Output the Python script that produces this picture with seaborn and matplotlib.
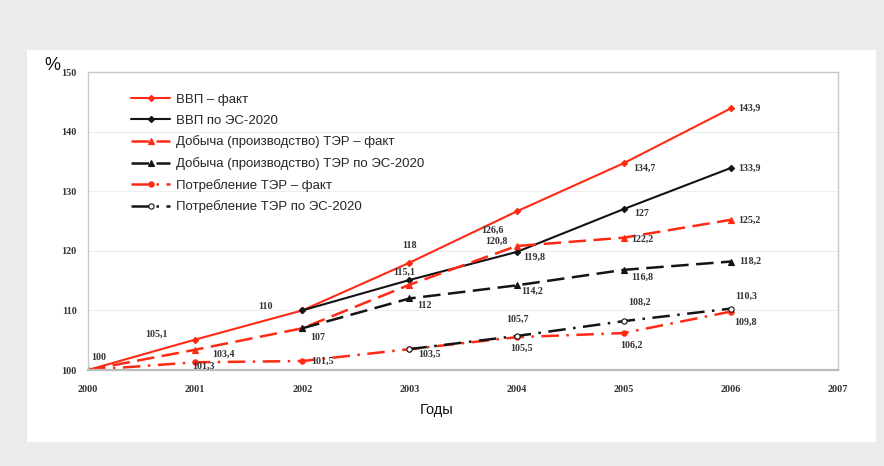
import pandas as pd
import matplotlib.pyplot as plt
import seaborn as sns
from matplotlib.patches import Rectangle

# Данные (индексы, 2000 = 100 %)
years = [2000, 2001, 2002, 2003, 2004, 2005, 2006]
vvp_fact = [100, 105.1, 110, 118, 126.6, 134.7, 143.9]
years_es = [2002, 2003, 2004, 2005, 2006]
vvp_es = [110, 115.1, 119.8, 127, 133.9]
dob_fact = [100, 103.4, 107, 114.3, 120.8, 122.2, 125.2]
dob_es = [107, 112, 114.2, 116.8, 118.2]
potr_fact = [100, 101.3, 101.5, 103.5, 105.5, 106.2, 109.8]
years_potr_es = [2003, 2004, 2005, 2006]
potr_es = [103.5, 105.7, 108.2, 110.3]

labels_vvp_fact = ["100", "105,1", "110", "118", "126,6", "134,7", "143,9"]
labels_vvp_es = [None, "115,1", "119,8", "127", "133,9"]
labels_dob_fact = [None, "103,4", "107", None, "120,8", "122,2", "125,2"]
labels_dob_es = [None, "112", "114,2", "116,8", "118,2"]
labels_potr_fact = [None, "101,3", "101,5", "103,5", "105,5", "106,2", "109,8"]
labels_potr_es = [None, "105,7", "108,2", "110,3"]

RED = "#ff2a14"
BLACK = "#141414"

# смещения подписей (пиксели)
off_vvp_fact = [(11, 13), (-39, 5), (-37, 4), (0, 17), (-24, -19), (21, -5), (19, 0)]
off_vvp_es = [None, (-5, 8), (18, -5), (18, -4), (19, 0)]
off_dob_fact = [None, (28, -5), (15, -9), None, (-20, 5), (19, -2), (19, 0)]
off_dob_es = [None, (15, -7), (16, -6), (19, -7), (19, 0)]
off_potr_fact = [None, (8, -4), (20, 0), (20, -5), (5, -11), (8, -12), (15, -11)]
off_potr_es = [None, (1, 17), (16, 19), (15, 12)]

series = [
    ("ВВП – факт", years, vvp_fact, RED, "-", "D", RED, labels_vvp_fact, off_vvp_fact, 1.5, 3.2),
    ("ВВП по ЭС-2020", years_es, vvp_es, BLACK, "-", "D", BLACK, labels_vvp_es, off_vvp_es, 1.5, 3.2),
    ("Добыча (производство) ТЭР – факт", years, dob_fact, RED, (0, (7, 3)), "^", RED, labels_dob_fact, off_dob_fact, 1.8, 3.8),
    ("Добыча (производство) ТЭР по ЭС-2020", years_es, dob_es, BLACK, (0, (7, 3)), "^", BLACK, labels_dob_es, off_dob_es, 1.8, 3.8),
    ("Потребление ТЭР – факт", years, potr_fact, RED, (0, (7, 3, 1, 3)), "o", RED, labels_potr_fact, off_potr_fact, 1.8, 3.8),
    ("Потребление ТЭР по ЭС-2020", years_potr_es, potr_es, BLACK, (0, (7, 3, 1, 3)), "o", "white", labels_potr_es, off_potr_es, 1.8, 3.8),
]

sns.set_theme(style="white")
plt.rcParams['font.family'] = ['Liberation Sans', 'DejaVu Sans']

fig = plt.figure(figsize=(8.84, 4.66), dpi=100)
fig.patch.set_facecolor("#ebebeb")
W, H = 884, 466
fig.patches.append(Rectangle((27 / W, 1 - 442 / H), (876 - 27) / W, (442 - 50) / H,
                             transform=fig.transFigure, facecolor="white", edgecolor="none", zorder=-5))

ax = fig.add_axes([88 / W, 1 - 370 / H, (838 - 88) / W, (370 - 72) / H])
ax.set_zorder(2)
ax.set_facecolor("white")

for name, xs, ys, col, ls, mk, mfc, labs, offs, lw, ms in series:
    df = pd.DataFrame({"Год": xs, "Значение": ys})
    sns.lineplot(data=df, x="Год", y="Значение", ax=ax, color=col, linestyle=ls, linewidth=lw,
                 marker=mk, markersize=ms, markerfacecolor=mfc, markeredgecolor=col,
                 markeredgewidth=0.8, label=name, errorbar=None)
    for x, y, lab, off in zip(xs, ys, labs, offs):
        if lab is None:
            continue
        ax.annotate(lab, (x, y), xytext=off, textcoords="offset pixels", ha="center", va="center",
                    fontsize=7.2, fontweight="bold", color="#333333", family="Liberation Serif")

ax.set_xlim(2000, 2007)
ax.set_ylim(100, 150)
ax.set_xticks(range(2000, 2008))
ax.set_yticks(range(100, 151, 10))
ax.grid(axis="y", color="#eeeeee", linewidth=0.8)
for lab in ax.get_xticklabels() + ax.get_yticklabels():
    lab.set_family("Liberation Serif")
    lab.set_fontweight("bold")
    lab.set_fontsize(7.3)
    lab.set_color("#333333")
ax.tick_params(axis="x", pad=9, length=2, color="#bbbbbb")
ax.tick_params(axis="y", pad=8, length=0)
for sp in ax.spines.values():
    sp.set_color("#c8c8c8")
    sp.set_linewidth(1.0)
ax.spines["bottom"].set_linewidth(1.6)
ax.spines["bottom"].set_color("#bdbdbd")

ax.set_xlabel("")
ax.set_ylabel("")
fig.text(52 / W, 1 - 65 / H, "%", fontsize=13, ha="center", va="center", color="#111111")
fig.text(437 / W, 1 - 410 / H, "Годы", fontsize=10.5, ha="center", va="center", color="#111111")

leg = ax.legend(loc="upper left", bbox_to_anchor=(0.05, 0.945), frameon=False, fontsize=9.5,
                handlelength=3.0, labelspacing=0.66, handletextpad=0.4, borderaxespad=0)

plt.savefig("out.png", dpi=100, facecolor=fig.get_facecolor())
